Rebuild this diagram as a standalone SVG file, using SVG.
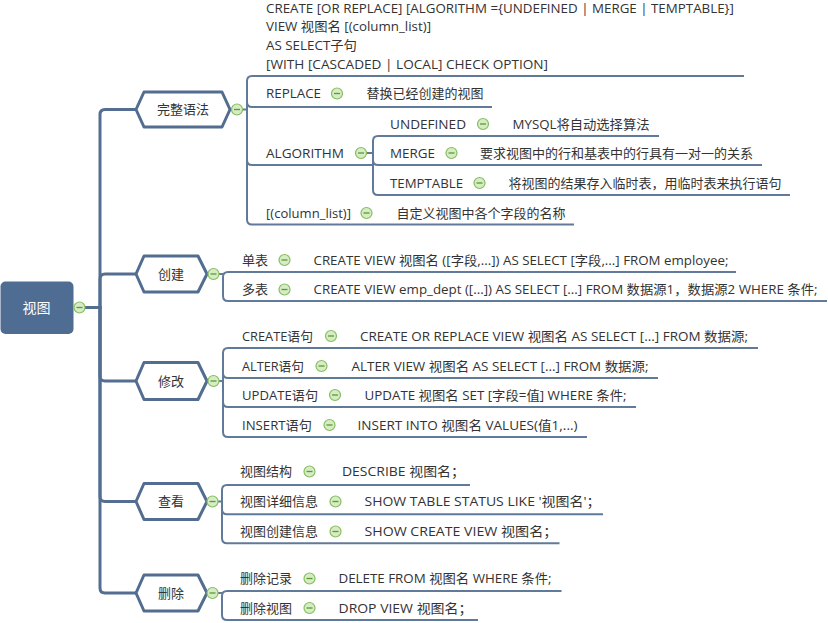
<svg xmlns="http://www.w3.org/2000/svg" xmlns:xlink="http://www.w3.org/1999/xlink" width="828" height="623" viewBox="0 0 828 623">
<style>
.t{font-family:"Open Sans","Noto Sans CJK SC",sans-serif;font-size:13px;fill:#333}
.h{font-family:"Open Sans","Noto Sans CJK SC",sans-serif;font-size:13px;fill:#333;text-anchor:middle}
.r{font-family:"Open Sans","Noto Sans CJK SC",sans-serif;font-size:14px;fill:#fff;text-anchor:middle}
.hex{fill:#fff;stroke:#526d90;stroke-width:3;stroke-linejoin:round}
.main{fill:none;stroke:#536e91;stroke-width:3;stroke-linecap:round}
.sub{fill:none;stroke:#627a99;stroke-width:2}
</style>
<defs>
<g id="m"><circle cx="0" cy="0" r="5.5" fill="#d6ecc2" stroke="#86bd62" stroke-width="1.2"/><line x1="-3" y1="0" x2="3" y2="0" stroke="#5b9a3b" stroke-width="1.3"/></g>
</defs>
<g id="connectors">
<path class="main" d="M84.5 307.5H100"/>
<path class="main" d="M100 307.5V114.5Q100 109.5 105 109.5H136"/>
<path class="main" d="M100 307.5V279Q100 274 105 274H136"/>
<path class="main" d="M100 307.5V376Q100 381 105 381H136"/>
<path class="main" d="M100 307.5V496.5Q100 501.5 105 501.5H136"/>
<path class="main" d="M100 307.5V588Q100 593 105 593H136"/>
<path class="sub" d="M242.5 109.5H247"/>
<path class="sub" d="M744 76H252Q247 76 247 81V219.5Q247 224.5 252 224.5H574"/>
<path class="sub" d="M247 102Q247 107 252 107H492"/>
<path class="sub" d="M247 160Q247 165 252 165H373"/>
<path class="sub" d="M366.5 153H373"/>
<path class="sub" d="M659 136H378Q373 136 373 141V190Q373 195 378 195H790"/>
<path class="sub" d="M373 160Q373 165 378 165H762"/>
<path class="sub" d="M219 274H223"/>
<path class="sub" d="M736 272H228Q223 272 223 277V296Q223 301 228 301H827"/>
<path class="sub" d="M219 381H223"/>
<path class="sub" d="M758 348H228Q223 348 223 353V432Q223 437 228 437H587"/>
<path class="sub" d="M223 373Q223 378 228 378H658"/>
<path class="sub" d="M223 402Q223 407 228 407H636"/>
<path class="sub" d="M218 501.5H222"/>
<path class="sub" d="M470 485H227Q222 485 222 490V538.3Q222 543.3 227 543.3H559.5"/>
<path class="sub" d="M222 509.3Q222 514.3 227 514.3H603"/>
<path class="sub" d="M218 593H222"/>
<path class="sub" d="M561.5 591H227Q222 591 222 596V615Q222 620 227 620H478"/>
</g>
<g id="root">
<rect x="0.5" y="281.5" width="73" height="52.5" rx="5" fill="#4f6d93"/>
<text class="r" x="36.5" y="313">视图</text>
<use xlink:href="#m" x="79.5" y="307.5"/>
</g>
<g id="n-syntax">
<polygon class="hex" points="136,109.5 144,92 222,92 230,109.5 222,127 144,127"/>
<text class="h" x="183" y="114">完整语法</text>
<use xlink:href="#m" x="237" y="109.5"/>
</g>
<g id="n-syntax-full">
<text class="t" x="266" y="12.5" textLength="468" lengthAdjust="spacingAndGlyphs">CREATE [OR REPLACE] [ALGORITHM ={UNDEFINED | MERGE | TEMPTABLE}]</text>
<text class="t" x="266" y="31" textLength="165" lengthAdjust="spacingAndGlyphs">VIEW 视图名 [(column_list)]</text>
<text class="t" x="266" y="50" textLength="91" lengthAdjust="spacingAndGlyphs">AS SELECT子句</text>
<text class="t" x="266" y="69" textLength="282" lengthAdjust="spacingAndGlyphs">[WITH [CASCADED | LOCAL] CHECK OPTION]</text>
</g>
<g id="n-replace">
<text class="t" x="266" y="98" textLength="55" lengthAdjust="spacingAndGlyphs">REPLACE</text>
<use xlink:href="#m" x="337" y="93.5"/>
<text class="t" x="366.5" y="98">替换已经创建的视图</text>
</g>
<g id="n-algorithm">
<text class="t" x="266" y="157.5" textLength="78" lengthAdjust="spacingAndGlyphs">ALGORITHM</text>
<use xlink:href="#m" x="361" y="153"/>
</g>
<g id="n-undefined">
<text class="t" x="390" y="128.5" textLength="76" lengthAdjust="spacingAndGlyphs">UNDEFINED</text>
<use xlink:href="#m" x="483" y="124"/>
<text class="t" x="512.5" y="128.5" textLength="137" lengthAdjust="spacingAndGlyphs">MYSQL将自动选择算法</text>
</g>
<g id="n-merge">
<text class="t" x="390" y="157.5" textLength="45" lengthAdjust="spacingAndGlyphs">MERGE</text>
<use xlink:href="#m" x="451.5" y="153"/>
<text class="t" x="480" y="157.5">要求视图中的行和基表中的行具有一对一的关系</text>
</g>
<g id="n-temptable">
<text class="t" x="390" y="187.5" textLength="73" lengthAdjust="spacingAndGlyphs">TEMPTABLE</text>
<use xlink:href="#m" x="479.5" y="183"/>
<text class="t" x="508.5" y="187.5">将视图的结果存入临时表，用临时表来执行语句</text>
</g>
<g id="n-columnlist">
<text class="t" x="266" y="217.5" textLength="85" lengthAdjust="spacingAndGlyphs">[(column_list)]</text>
<use xlink:href="#m" x="366.5" y="213"/>
<text class="t" x="396.5" y="217.5">自定义视图中各个字段的名称</text>
</g>
<g id="n-create">
<polygon class="hex" points="136,274 144,256 198,256 207,274 198,292 144,292"/>
<text class="h" x="171" y="278.5">创建</text>
<use xlink:href="#m" x="213.5" y="274"/>
</g>
<g id="n-single">
<text class="t" x="242" y="264.5">单表</text>
<use xlink:href="#m" x="284.5" y="260"/>
<text class="t" x="313.5" y="264.5" textLength="415" lengthAdjust="spacingAndGlyphs">CREATE VIEW 视图名 ([字段,...]) AS SELECT [字段,...] FROM employee;</text>
</g>
<g id="n-multi">
<text class="t" x="242" y="294">多表</text>
<use xlink:href="#m" x="284.5" y="289.5"/>
<text class="t" x="313.5" y="294" textLength="504" lengthAdjust="spacingAndGlyphs">CREATE VIEW emp_dept ([...]) AS SELECT [...] FROM 数据源1，数据源2 WHERE 条件;</text>
</g>
<g id="n-modify">
<polygon class="hex" points="136,381 144,362.5 198,362.5 207,381 198,399.5 144,399.5"/>
<text class="h" x="171" y="385.5">修改</text>
<use xlink:href="#m" x="213.5" y="381"/>
</g>
<g id="n-create-stmt">
<text class="t" x="242" y="340.5" textLength="71" lengthAdjust="spacingAndGlyphs">CREATE语句</text>
<use xlink:href="#m" x="331" y="336"/>
<text class="t" x="360" y="340.5" textLength="388" lengthAdjust="spacingAndGlyphs">CREATE OR REPLACE VIEW 视图名 AS SELECT [...] FROM 数据源;</text>
</g>
<g id="n-alter-stmt">
<text class="t" x="242" y="370.5" textLength="62" lengthAdjust="spacingAndGlyphs">ALTER语句</text>
<use xlink:href="#m" x="321.5" y="366"/>
<text class="t" x="351.5" y="370.5" textLength="297" lengthAdjust="spacingAndGlyphs">ALTER VIEW 视图名 AS SELECT [...] FROM 数据源;</text>
</g>
<g id="n-update-stmt">
<text class="t" x="242" y="399.5" textLength="76" lengthAdjust="spacingAndGlyphs">UPDATE语句</text>
<use xlink:href="#m" x="335" y="395"/>
<text class="t" x="364.5" y="399.5" textLength="262" lengthAdjust="spacingAndGlyphs">UPDATE 视图名 SET [字段=值] WHERE 条件;</text>
</g>
<g id="n-insert-stmt">
<text class="t" x="242" y="429.5" textLength="70" lengthAdjust="spacingAndGlyphs">INSERT语句</text>
<use xlink:href="#m" x="329.5" y="425"/>
<text class="t" x="357.5" y="429.5" textLength="220" lengthAdjust="spacingAndGlyphs">INSERT INTO 视图名 VALUES(值1,...)</text>
</g>
<g id="n-view">
<polygon class="hex" points="136,501.5 144,483.5 198,483.5 207,501.5 198,519.5 144,519.5"/>
<text class="h" x="171" y="506">查看</text>
<use xlink:href="#m" x="212.5" y="501.5"/>
</g>
<g id="n-structure">
<text class="t" x="240" y="476">视图结构</text>
<use xlink:href="#m" x="309.5" y="471.5"/>
<text class="t" x="342" y="476" textLength="123" lengthAdjust="spacingAndGlyphs">DESCRIBE 视图名；</text>
</g>
<g id="n-detail">
<text class="t" x="240" y="506">视图详细信息</text>
<use xlink:href="#m" x="335.5" y="501.5"/>
<text class="t" x="364.5" y="506" textLength="236" lengthAdjust="spacingAndGlyphs">SHOW TABLE STATUS LIKE '视图名'；</text>
</g>
<g id="n-create-info">
<text class="t" x="240" y="536">视图创建信息</text>
<use xlink:href="#m" x="335.5" y="531.5"/>
<text class="t" x="364.5" y="536" textLength="193" lengthAdjust="spacingAndGlyphs">SHOW CREATE VIEW 视图名；</text>
</g>
<g id="n-delete">
<polygon class="hex" points="136,593 144,575 198,575 207,593 198,611 144,611"/>
<text class="h" x="171" y="597.5">删除</text>
<use xlink:href="#m" x="212.5" y="593"/>
</g>
<g id="n-del-record">
<text class="t" x="240" y="583">删除记录</text>
<use xlink:href="#m" x="309.5" y="578.5"/>
<text class="t" x="338.5" y="583" textLength="213" lengthAdjust="spacingAndGlyphs">DELETE FROM 视图名 WHERE 条件;</text>
</g>
<g id="n-del-view">
<text class="t" x="240" y="612.5">删除视图</text>
<use xlink:href="#m" x="309.5" y="608"/>
<text class="t" x="338.5" y="612.5" textLength="134" lengthAdjust="spacingAndGlyphs">DROP VIEW 视图名；</text>
</g>
</svg>
